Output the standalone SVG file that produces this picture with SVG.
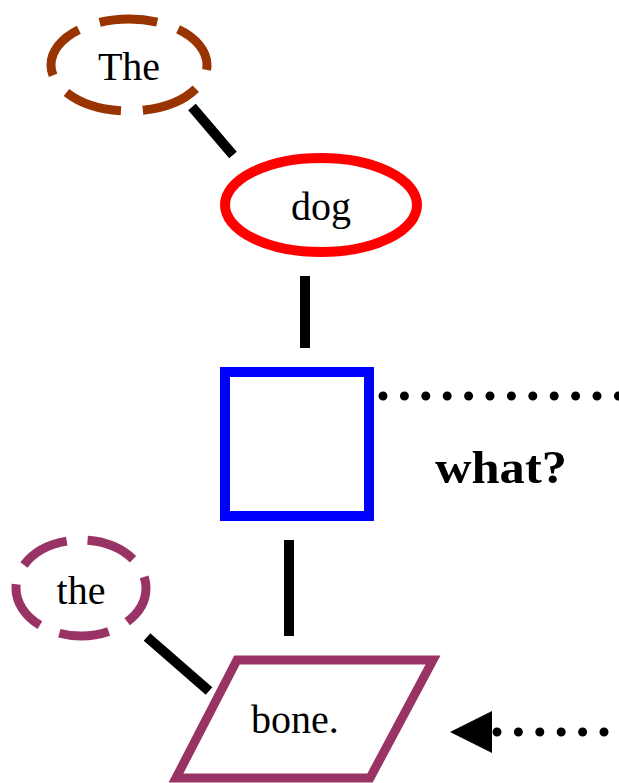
<svg xmlns="http://www.w3.org/2000/svg" width="619" height="783" viewBox="0 0 619 783">
<style>
.lbl{font-family:"Liberation Serif","Times New Roman",serif;font-size:40px;fill:#000;text-anchor:middle}
.edge{stroke:#000;stroke-width:10;fill:none}
.dot{stroke:#000;stroke-width:9;stroke-linecap:round;stroke-dasharray:0 21.4;fill:none}
</style>
<rect width="619" height="783" fill="#fff"/>
<g id="connectors">
<line class="edge" x1="192" y1="107" x2="233" y2="155"/>
<line class="edge" x1="305" y1="276" x2="305" y2="348"/>
<line class="edge" x1="289" y1="540" x2="289" y2="636"/>
<line class="edge" x1="147" y1="637" x2="209" y2="691"/>
<line class="dot" x1="383" y1="396" x2="630" y2="396"/>
<line class="dot" x1="625.4" y1="732" x2="496" y2="732"/>
<polygon points="450,732 492,711 492,753" fill="#000"/>
</g>
<g id="node-The">
<ellipse cx="129" cy="65" rx="78" ry="46" fill="none" stroke="#993300" stroke-width="9" stroke-dasharray="58 22" stroke-dashoffset="53"/>
<text class="lbl" x="129" y="80">The</text>
</g>
<g id="node-dog">
<ellipse cx="321" cy="205" rx="96" ry="47" fill="none" stroke="#ff0000" stroke-width="10"/>
<text class="lbl" x="321" y="220">dog</text>
</g>
<g id="node-verb">
<rect x="225" y="372" width="144" height="144" fill="none" stroke="#0000ff" stroke-width="10"/>
</g>
<g id="label-what">
<text x="435" y="483" textLength="132" lengthAdjust="spacingAndGlyphs" style="font-family:'Liberation Serif','Times New Roman',serif;font-size:46px;font-weight:bold">what?</text>
</g>
<g id="node-the">
<ellipse cx="81" cy="588" rx="65" ry="48" fill="none" stroke="#993366" stroke-width="9" stroke-dasharray="50 21" stroke-dashoffset="10"/>
<text class="lbl" x="81" y="604">the</text>
</g>
<g id="node-bone">
<polygon points="237,660 433,660 370,778 176,778" fill="none" stroke="#993366" stroke-width="9"/>
<text class="lbl" x="295" y="733">bone.</text>
</g>
</svg>
